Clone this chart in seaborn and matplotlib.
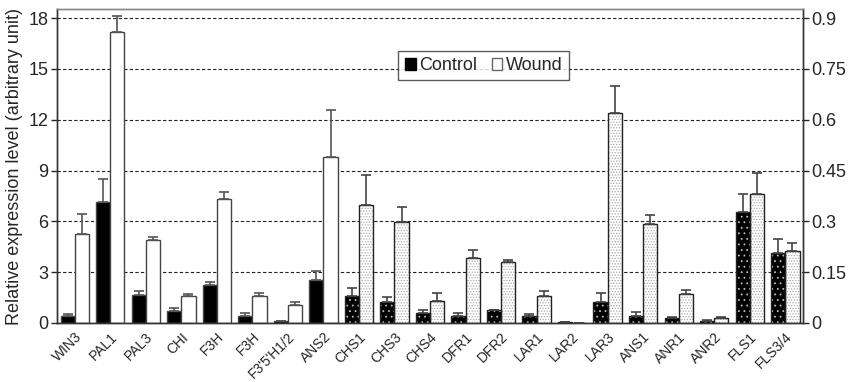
import numpy as np
import pandas as pd
import matplotlib
matplotlib.use('Agg')
import matplotlib.pyplot as plt
import seaborn as sns
from matplotlib.patches import Patch, Rectangle

sns.set_style('white')
plt.rcParams['font.family'] = ['Liberation Sans', 'DejaVu Sans']
plt.rcParams['hatch.linewidth'] = 0.6

# Genes; first 8 read on the left axis, the rest on the right axis
genes = ['WIN3', 'PAL1', 'PAL3', 'CHI', 'F3H', 'F3H ', "F3'5'H1/2", 'ANS2',
         'CHS1', 'CHS3', 'CHS4', 'DFR1', 'DFR2', 'LAR1', 'LAR2', 'LAR3',
         'ANS1', 'ANR1', 'ANR2', 'FLS1', 'FLS3/4']
tick_labels = ['WIN3', 'PAL1', 'PAL3', 'CHI', 'F3H', 'F3H', "F3'5'H1/2", 'ANS2',
               'CHS1', 'CHS3', 'CHS4', 'DFR1', 'DFR2', 'LAR1', 'LAR2', 'LAR3',
               'ANS1', 'ANR1', 'ANR2', 'FLS1', 'FLS3/4']
n_left = 8

ctrl_left = [0.43, 7.14, 1.67, 0.73, 2.26, 0.43, 0.10, 2.52]
ctrl_left_err = [0.10, 1.36, 0.24, 0.16, 0.16, 0.16, 0.04, 0.53]
wound_left = [5.25, 17.2, 4.92, 1.57, 7.34, 1.61, 1.08, 9.8]
wound_left_err = [1.18, 0.94, 0.14, 0.14, 0.39, 0.16, 0.16, 2.75]

ctrl_right = [0.081, 0.063, 0.030, 0.020, 0.038, 0.020, 0.002, 0.061, 0.021, 0.016, 0.007, 0.327, 0.208]
ctrl_right_err = [0.021, 0.015, 0.007, 0.008, 0.001, 0.006, 0.0, 0.027, 0.012, 0.002, 0.001, 0.054, 0.039]
wound_right = [0.349, 0.297, 0.065, 0.191, 0.179, 0.080, 0.0, 0.619, 0.291, 0.085, 0.015, 0.381, 0.212]
wound_right_err = [0.087, 0.046, 0.023, 0.023, 0.008, 0.013, 0.0, 0.081, 0.028, 0.011, 0.003, 0.063, 0.025]

left_ticks = [0, 3, 6, 9, 12, 15, 18]
right_ticks = [0, 0.15, 0.3, 0.45, 0.6, 0.75, 0.9]
right_labels = ['0', '0.15', '0.3', '0.45', '0.6', '0.75', '0.9']

left_genes = genes[:n_left]
right_genes = genes[n_left:]
df_left = pd.DataFrame({
    'gene': left_genes * 2,
    'condition': ['Control'] * n_left + ['Wound'] * n_left,
    'value': ctrl_left + wound_left,
})
df_right = pd.DataFrame({
    'gene': right_genes * 2,
    'condition': ['Control'] * len(right_genes) + ['Wound'] * len(right_genes),
    'value': ctrl_right + wound_right,
})

fig = plt.figure(figsize=(8.48, 3.82), dpi=100)
ax = fig.add_axes([0.0672, 0.1545, 0.8798, 0.8215])
ax2 = ax.twinx()

pal = {'Control': 'black', 'Wound': 'white'}
sns.barplot(data=df_left, x='gene', y='value', hue='condition', order=genes,
            hue_order=['Control', 'Wound'], palette=pal, ax=ax, width=0.8,
            edgecolor='#444444', linewidth=1.0, errorbar=None, legend=False)
sns.barplot(data=df_right, x='gene', y='value', hue='condition', order=genes,
            hue_order=['Control', 'Wound'], palette=pal, ax=ax2, width=0.8,
            linewidth=0, errorbar=None, legend=False)

# dotted fill for right-axis bars, then a black outline on top
for cont, hcol, hatch in zip(ax2.containers, ['#bbbbbb', '#aaaaaa'], ['...', '......']):
    for p in cont:
        p.set_hatch(hatch)
        p.set_edgecolor(hcol)
        p.set_linewidth(0)
        ax2.add_patch(Rectangle(p.get_xy(), p.get_width(), p.get_height(),
                                fill=False, ec='#222222', lw=1.0, zorder=p.get_zorder() + 0.1))

# error bars (upper only)
x_left = np.arange(n_left)
x_right = np.arange(n_left, len(genes))
ax.errorbar(x_left - 0.2, ctrl_left, yerr=[np.zeros(n_left), ctrl_left_err], fmt='none',
            ecolor='#555555', elinewidth=1.2, capsize=3.5, capthick=1.2, zorder=5)
ax.errorbar(x_left + 0.2, wound_left, yerr=[np.zeros(n_left), wound_left_err], fmt='none',
            ecolor='#555555', elinewidth=1.2, capsize=3.5, capthick=1.2, zorder=5)
ax2.errorbar(x_right - 0.2, ctrl_right, yerr=[np.zeros(len(x_right)), ctrl_right_err], fmt='none',
             ecolor='#444444', elinewidth=1.2, capsize=3.5, capthick=1.2, zorder=5)
ax2.errorbar(x_right + 0.2, wound_right, yerr=[np.zeros(len(x_right)), wound_right_err], fmt='none',
             ecolor='#444444', elinewidth=1.2, capsize=3.5, capthick=1.2, zorder=5)

ax.set_ylim(0, 18.53)
ax2.set_ylim(0, 18.53 / 20)
ax.set_xlim(-0.5, len(genes) - 0.5)

ax.set_yticks(left_ticks)
ax.set_yticklabels([str(t) for t in left_ticks], fontsize=13)
ax2.set_yticks(right_ticks)
ax2.set_yticklabels(right_labels, fontsize=13)
ax.set_ylabel('Relative expression level (arbitrary unit)', fontsize=13, labelpad=4)
ax2.set_ylabel('')
ax.set_xlabel('')
ax2.set_xlabel('')

ax.set_xticks(np.arange(len(genes)))
ax.set_xticklabels(tick_labels, rotation=45, ha='right', rotation_mode='anchor', fontsize=10)
ax.set_xticks(np.arange(len(genes) + 1) - 0.5, minor=True)
ax.tick_params(axis='x', which='major', length=0, pad=5)
ax.tick_params(axis='x', which='minor', length=4, width=1, color='#333333', direction='out')
ax.tick_params(axis='y', length=4, width=1, direction='out', left=True, pad=2)
ax2.tick_params(axis='y', length=4, width=1, direction='out', right=True, pad=2)

ax.set_axisbelow(True)
ax.yaxis.grid(True, linestyle=(0, (3, 2)), color='#222222', linewidth=0.8)
ax2.grid(False)

for a in (ax, ax2):
    a.spines['top'].set_color('#888888')
    a.spines['left'].set_color('#333333')
    a.spines['right'].set_color('#333333')
    a.spines['bottom'].set_color('#333333')
    for s in a.spines.values():
        s.set_linewidth(1.0)

handles = [Patch(facecolor='black', edgecolor='black'),
           Patch(facecolor='white', edgecolor='#666666')]
leg = ax2.legend(handles, ['Control', 'Wound'], ncol=2, fontsize=13, loc='center',
                 bbox_to_anchor=(0.572, 0.82), frameon=True, fancybox=False,
                 handlelength=0.6, handleheight=0.6, handletextpad=0.2,
                 columnspacing=0.8, borderpad=0.35)
leg.get_frame().set_edgecolor('#333333')
leg.get_frame().set_linewidth(1.0)

fig.savefig('out.png', dpi=100)
